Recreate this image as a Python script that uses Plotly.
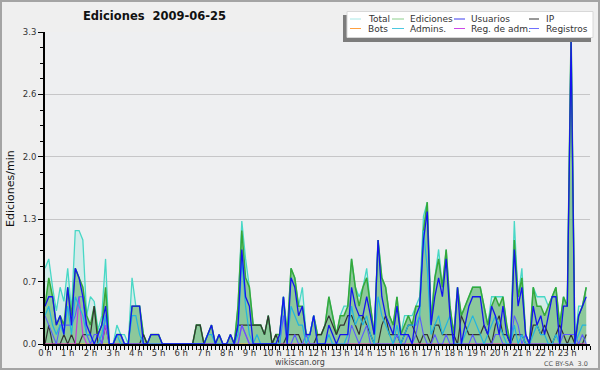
import plotly.graph_objects as go

# ---- data: one value per 10-minute slot (edits per minute), 2009-06-25 ----
slot_minutes = list(range(0, 1440, 10))
slot_hours = [m / 60 for m in slot_minutes]

hour_ticks = list(range(24))
hour_labels = [f"{h} h" for h in hour_ticks]

y_tickvals = [0.0, 0.66, 1.32, 1.98, 2.64, 3.3]
y_ticklabels = ["0.0", "0.7", "1.3", "2.0", "2.6", "3.3"]

total = [
    0.8, 0.9, 0.6, 0.35, 0.6, 0.45,
    0.8, 0.35, 1.2, 1.2, 1.1, 0.3,
    0.5, 0.45, 0.15, 0.3, 0.9, 0.0,
    0.0, 0.2, 0.1, 0.1, 0.0, 0.7,
    0.4, 0.4, 0.1, 0.0, 0.1, 0.1,
    0.1, 0.0, 0.0, 0.0, 0.0, 0.0,
    0.0, 0.0, 0.0, 0.0, 0.2, 0.2,
    0.0, 0.1, 0.2, 0.0, 0.1, 0.0,
    0.0, 0.1, 0.0, 0.4, 1.3, 0.9,
    0.6, 0.2, 0.2, 0.2, 0.1, 0.3,
    0.0, 0.1, 0.1, 0.5, 0.1, 0.8,
    0.7, 0.4, 0.6, 0.1, 0.1, 0.3,
    0.1, 0.1, 0.2, 0.5, 0.3, 0.1,
    0.3, 0.4, 0.4, 0.9, 0.6, 0.5,
    0.6, 0.8, 0.4, 0.1, 1.1, 0.7,
    0.6, 0.3, 0.2, 0.5, 0.1, 0.3,
    0.3, 0.3, 0.4, 0.5, 1.35, 1.5,
    0.3, 0.7, 1.0, 0.6, 1.0, 0.4,
    0.1, 0.6, 0.3, 0.4, 0.5, 0.6,
    0.6, 0.6, 0.4, 0.2, 0.5, 0.5,
    0.5, 0.5, 0.2, 0.0, 1.3, 0.5,
    0.8, 0.1, 0.0, 0.6, 0.5, 0.5,
    0.5, 0.4, 0.5, 0.6, 0.2, 0.5,
    0.4, 3.3, 0.0, 0.4, 0.4, 0.6,
]

ediciones = [
    0.4, 0.7, 0.5, 0.2, 0.3, 0.2,
    0.6, 0.3, 0.8, 0.7, 0.6, 0.3,
    0.2, 0.4, 0.1, 0.2, 0.6, 0.0,
    0.0, 0.1, 0.1, 0.0, 0.0, 0.4,
    0.4, 0.4, 0.1, 0.0, 0.1, 0.1,
    0.1, 0.0, 0.0, 0.0, 0.0, 0.0,
    0.0, 0.0, 0.0, 0.0, 0.2, 0.2,
    0.0, 0.1, 0.2, 0.0, 0.1, 0.0,
    0.0, 0.1, 0.0, 0.4, 1.2, 0.7,
    0.6, 0.2, 0.2, 0.2, 0.1, 0.3,
    0.0, 0.1, 0.1, 0.5, 0.1, 0.8,
    0.7, 0.4, 0.4, 0.1, 0.1, 0.3,
    0.1, 0.1, 0.2, 0.5, 0.3, 0.1,
    0.3, 0.3, 0.4, 0.9, 0.6, 0.4,
    0.6, 0.7, 0.4, 0.1, 1.1, 0.7,
    0.6, 0.3, 0.2, 0.5, 0.1, 0.2,
    0.3, 0.2, 0.4, 0.4, 1.2, 1.5,
    0.2, 0.7, 0.9, 0.6, 1.0, 0.4,
    0.1, 0.6, 0.3, 0.4, 0.5, 0.6,
    0.6, 0.6, 0.4, 0.2, 0.4, 0.5,
    0.4, 0.5, 0.2, 0.0, 1.1, 0.5,
    0.7, 0.1, 0.0, 0.6, 0.4, 0.4,
    0.3, 0.4, 0.5, 0.6, 0.2, 0.5,
    0.4, 3.3, 0.0, 0.3, 0.4, 0.6,
]

usuarios = [
    0.4, 0.5, 0.5, 0.2, 0.3, 0.1,
    0.6, 0.2, 0.8, 0.7, 0.5, 0.2,
    0.1, 0.0, 0.1, 0.2, 0.4, 0.0,
    0.0, 0.1, 0.1, 0.0, 0.0, 0.4,
    0.4, 0.4, 0.0, 0.0, 0.1, 0.1,
    0.1, 0.0, 0.0, 0.0, 0.0, 0.0,
    0.0, 0.0, 0.0, 0.0, 0.0, 0.0,
    0.0, 0.1, 0.2, 0.0, 0.1, 0.0,
    0.0, 0.1, 0.0, 0.2, 1.0, 0.5,
    0.4, 0.0, 0.0, 0.0, 0.0, 0.0,
    0.0, 0.0, 0.1, 0.5, 0.0, 0.7,
    0.6, 0.3, 0.4, 0.1, 0.1, 0.3,
    0.0, 0.0, 0.0, 0.2, 0.1, 0.0,
    0.1, 0.1, 0.1, 0.6, 0.4, 0.3,
    0.3, 0.5, 0.3, 0.1, 1.1, 0.5,
    0.3, 0.2, 0.1, 0.4, 0.1, 0.1,
    0.1, 0.0, 0.3, 0.4, 1.1, 1.4,
    0.2, 0.5, 0.7, 0.5, 0.9, 0.3,
    0.0, 0.6, 0.0, 0.2, 0.4, 0.5,
    0.5, 0.5, 0.2, 0.1, 0.4, 0.3,
    0.1, 0.4, 0.1, 0.0, 1.0, 0.4,
    0.6, 0.1, 0.0, 0.4, 0.2, 0.3,
    0.1, 0.3, 0.5, 0.5, 0.0, 0.4,
    0.4, 3.2, 0.0, 0.3, 0.4, 0.5,
]

ip = [
    0.0, 0.2, 0.0, 0.0, 0.0, 0.1,
    0.0, 0.1, 0.0, 0.0, 0.1, 0.1,
    0.1, 0.4, 0.0, 0.0, 0.2, 0.0,
    0.0, 0.0, 0.0, 0.0, 0.0, 0.0,
    0.0, 0.0, 0.1, 0.0, 0.0, 0.0,
    0.0, 0.0, 0.0, 0.0, 0.0, 0.0,
    0.0, 0.0, 0.0, 0.0, 0.2, 0.2,
    0.0, 0.0, 0.0, 0.0, 0.0, 0.0,
    0.0, 0.0, 0.0, 0.2, 0.2, 0.2,
    0.2, 0.2, 0.2, 0.2, 0.1, 0.3,
    0.0, 0.1, 0.0, 0.0, 0.1, 0.1,
    0.1, 0.1, 0.0, 0.0, 0.0, 0.0,
    0.1, 0.1, 0.2, 0.3, 0.2, 0.1,
    0.2, 0.2, 0.3, 0.3, 0.2, 0.1,
    0.3, 0.2, 0.1, 0.0, 0.0, 0.2,
    0.3, 0.1, 0.1, 0.1, 0.0, 0.1,
    0.2, 0.2, 0.1, 0.0, 0.1, 0.1,
    0.0, 0.2, 0.2, 0.1, 0.1, 0.1,
    0.1, 0.0, 0.3, 0.2, 0.1, 0.1,
    0.1, 0.1, 0.2, 0.1, 0.0, 0.2,
    0.3, 0.1, 0.1, 0.0, 0.1, 0.1,
    0.1, 0.0, 0.0, 0.2, 0.2, 0.1,
    0.2, 0.1, 0.0, 0.1, 0.2, 0.1,
    0.0, 0.1, 0.0, 0.0, 0.0, 0.1,
]

bots = [
    0.0, 0.0, 0.0, 0.0, 0.0, 0.0,  0.0, 0.0, 0.0, 0.0, 0.0, 0.0,
    0.0, 0.0, 0.0, 0.0, 0.0, 0.0,  0.0, 0.0, 0.0, 0.0, 0.0, 0.0,
    0.0, 0.0, 0.0, 0.0, 0.0, 0.0,  0.0, 0.0, 0.0, 0.0, 0.0, 0.0,
    0.0, 0.0, 0.0, 0.0, 0.0, 0.0,  0.0, 0.0, 0.0, 0.0, 0.0, 0.0,
    0.0, 0.0, 0.0, 0.0, 0.0, 0.0,  0.0, 0.0, 0.0, 0.0, 0.0, 0.0,
    0.0, 0.0, 0.0, 0.0, 0.0, 0.0,  0.0, 0.0, 0.0, 0.0, 0.0, 0.0,
    0.0, 0.0, 0.0, 0.0, 0.0, 0.0,  0.0, 0.0, 0.0, 0.0, 0.0, 0.0,
    0.0, 0.0, 0.0, 0.0, 0.0, 0.0,  0.0, 0.0, 0.0, 0.0, 0.0, 0.0,
    0.0, 0.0, 0.0, 0.0, 0.0, 0.0,  0.0, 0.0, 0.0, 0.0, 0.0, 0.0,
    0.0, 0.0, 0.0, 0.0, 0.0, 0.0,  0.0, 0.0, 0.0, 0.0, 0.0, 0.0,
    0.0, 0.0, 0.0, 0.0, 0.0, 0.0,  0.0, 0.0, 0.0, 0.0, 0.0, 0.0,
    0.0, 0.0, 0.0, 0.0, 0.0, 0.0,  0.0, 0.0, 0.0, 0.0, 0.0, 0.0,
]

admins = [
    0.3, 0.4, 0.2, 0.1, 0.2, 0.1,
    0.4, 0.1, 0.5, 0.4, 0.3, 0.1,
    0.1, 0.0, 0.0, 0.1, 0.3, 0.0,
    0.0, 0.1, 0.0, 0.0, 0.0, 0.3,
    0.3, 0.1, 0.0, 0.0, 0.0, 0.0,
    0.0, 0.0, 0.0, 0.0, 0.0, 0.0,
    0.0, 0.0, 0.0, 0.0, 0.0, 0.0,
    0.0, 0.1, 0.1, 0.0, 0.0, 0.0,
    0.0, 0.0, 0.0, 0.1, 0.9, 0.4,
    0.1, 0.0, 0.1, 0.0, 0.0, 0.0,
    0.0, 0.0, 0.0, 0.5, 0.0, 0.4,
    0.3, 0.2, 0.2, 0.0, 0.1, 0.3,
    0.0, 0.0, 0.0, 0.1, 0.0, 0.0,
    0.0, 0.0, 0.1, 0.4, 0.2, 0.3,
    0.2, 0.3, 0.1, 0.0, 0.5, 0.3,
    0.2, 0.1, 0.0, 0.2, 0.0, 0.1,
    0.2, 0.2, 0.2, 0.3, 1.2, 0.8,
    0.1, 0.2, 0.3, 0.1, 0.2, 0.3,
    0.0, 0.0, 0.0, 0.1, 0.2, 0.3,
    0.2, 0.1, 0.0, 0.1, 0.2, 0.3,
    0.2, 0.1, 0.0, 0.0, 0.2, 0.0,
    0.1, 0.0, 0.0, 0.1, 0.2, 0.1,
    0.1, 0.0, 0.0, 0.1, 0.0, 0.0,
    0.0, 0.0, 0.0, 0.1, 0.2, 0.2,
]

reg_adm = [
    0.0, 0.0, 0.0, 0.0, 0.0, 0.0,  0.0, 0.0, 0.0, 0.5, 0.1, 0.0,
    0.0, 0.0, 0.0, 0.0, 0.2, 0.0,  0.0, 0.0, 0.0, 0.0, 0.0, 0.0,
    0.0, 0.0, 0.0, 0.0, 0.0, 0.0,  0.0, 0.0, 0.0, 0.0, 0.0, 0.0,
    0.0, 0.0, 0.0, 0.0, 0.0, 0.0,  0.0, 0.0, 0.0, 0.0, 0.0, 0.0,
    0.0, 0.0, 0.0, 0.0, 0.2, 0.1,  0.0, 0.0, 0.0, 0.0, 0.0, 0.0,
    0.0, 0.0, 0.0, 0.0, 0.0, 0.0,  0.0, 0.0, 0.0, 0.0, 0.0, 0.0,
    0.0, 0.0, 0.0, 0.0, 0.0, 0.0,  0.0, 0.0, 0.0, 0.0, 0.0, 0.0,
    0.0, 0.0, 0.0, 0.0, 0.0, 0.0,  0.0, 0.0, 0.0, 0.0, 0.0, 0.0,
    0.0, 0.0, 0.0, 0.0, 0.0, 0.0,  0.0, 0.0, 0.0, 0.0, 0.0, 0.0,
    0.0, 0.0, 0.0, 0.0, 0.0, 0.0,  0.0, 0.0, 0.0, 0.0, 0.0, 0.0,
    0.0, 0.0, 0.0, 0.0, 0.0, 0.0,  0.0, 0.0, 0.0, 0.0, 0.0, 0.0,
    0.0, 0.0, 0.0, 0.0, 0.0, 0.0,  0.0, 0.0, 0.0, 0.0, 0.0, 0.0,
]

registros = [
    0.3, 0.2, 0.1, 0.0, 0.2, 0.2,
    0.2, 0.2, 0.3, 0.5, 0.5, 0.1,
    0.0, 0.1, 0.1, 0.0, 0.3, 0.0,
    0.0, 0.1, 0.1, 0.0, 0.0, 0.0,
    0.0, 0.0, 0.0, 0.0, 0.0, 0.0,
    0.0, 0.0, 0.0, 0.0, 0.0, 0.0,
    0.0, 0.0, 0.0, 0.0, 0.0, 0.0,
    0.0, 0.0, 0.0, 0.0, 0.0, 0.0,
    0.0, 0.0, 0.0, 0.0, 0.2, 0.1,
    0.0, 0.0, 0.0, 0.0, 0.0, 0.0,
    0.0, 0.0, 0.0, 0.3, 0.0, 0.0,
    0.1, 0.0, 0.0, 0.1, 0.0, 0.0,
    0.0, 0.0, 0.0, 0.0, 0.0, 0.0,
    0.0, 0.0, 0.0, 0.2, 0.1, 0.0,
    0.1, 0.2, 0.0, 0.0, 0.0, 0.0,
    0.0, 0.0, 0.0, 0.1, 0.0, 0.0,
    0.1, 0.0, 0.1, 0.3, 0.1, 0.0,
    0.0, 0.1, 0.0, 0.0, 0.1, 0.0,
    0.0, 0.0, 0.0, 0.0, 0.0, 0.1,
    0.0, 0.0, 0.0, 0.0, 0.0, 0.1,
    0.1, 0.0, 0.0, 0.0, 0.3, 0.2,
    0.0, 0.1, 0.0, 0.0, 0.0, 0.0,
    0.0, 0.0, 0.0, 0.0, 0.0, 0.1,
    0.1, 0.1, 0.1, 0.0, 0.1, 0.0,
]

# ---- styling ----
FONT = "DejaVu Sans"
W, H = 600, 370
ML, MR, MT, MB = 45, 10, 32, 26
PW, PH = W - ML - MR, H - MT - MB


def px(x):
    return (x - ML) / PW


def py(y):
    return (MT + PH - y) / PH


fig = go.Figure()


def add_line(y, color, width, fill=None, fillcolor=None, name=""):
    kw = dict(x=slot_hours, y=y, mode="lines", name=name,
              line=dict(color=color, width=width), hoverinfo="skip",
              showlegend=False)
    if fill:
        kw.update(fill=fill, fillcolor=fillcolor)
    fig.add_trace(go.Scatter(**kw))


add_line(total, "#48d8c6", 1.3, "tozeroy", "rgba(72,216,198,0.16)", "Total")
add_line(ediciones, "#36a83a", 1.5, "tozeroy", "rgba(70,165,75,0.50)", "Ediciones")
add_line(bots, "#ff9a3a", 1.0, name="Bots")
add_line(ip, "#333333", 1.2, name="IP")
add_line(reg_adm, "#c23cdc", 1.2, name="Reg. de adm.")
add_line(registros, "#5a5aff", 1.1, name="Registros")
add_line(admins, "#22b4e0", 1.2, name="Admins.")
add_line(usuarios, "#1414ee", 1.3, name="Usuarios")

shapes = []
annotations = []

# figure border
shapes.append(dict(type="rect", xref="paper", yref="paper",
                   x0=px(1), x1=px(W - 1), y0=py(H - 1), y1=py(1),
                   line=dict(color="#a4a4a4", width=2), fillcolor="rgba(0,0,0,0)",
                   layer="above"))

# legend shadow + box
shapes.append(dict(type="rect", xref="paper", yref="paper",
                   x0=px(343), x1=px(591), y0=py(42), y1=py(15),
                   line=dict(width=0), fillcolor="#7c7c7c", layer="above"))
shapes.append(dict(type="rect", xref="paper", yref="paper",
                   x0=px(347), x1=px(593), y0=py(37.5), y1=py(11.5),
                   line=dict(color="#d8d8d8", width=1), fillcolor="#ffffff",
                   layer="above"))

legend_items = [
    ("Total", "#a8e8e6", 350, 361, 366, 19),
    ("Ediciones", "#8ccf8c", 392, 404, 408, 19),
    ("Usuarios", "#3c3cf0", 454, 465, 469, 19),
    ("IP", "#333333", 529, 539, 544, 19),
    ("Bots", "#ffa040", 350, 361, 366, 28.5),
    ("Admins.", "#4cc8e0", 392, 404, 408, 28.5),
    ("Reg. de adm.", "#cc48e8", 454, 465, 469, 28.5),
    ("Registros", "#7070ff", 529, 539, 544, 28.5),
]
for label, color, sx0, sx1, tx, ry in legend_items:
    shapes.append(dict(type="line", xref="paper", yref="paper",
                       x0=px(sx0), x1=px(sx1), y0=py(ry), y1=py(ry),
                       line=dict(color=color, width=1), layer="above"))
    annotations.append(dict(text=label, xref="paper", yref="paper",
                            x=px(tx), y=py(ry), xanchor="left", yanchor="middle",
                            showarrow=False,
                            font=dict(family=FONT, size=9, color="#333333")))

# title
annotations.append(dict(text="<b>Ediciones  2009-06-25</b>", xref="paper", yref="paper",
                        x=px(154), y=py(16), xanchor="center", yanchor="middle",
                        showarrow=False,
                        font=dict(family=FONT, size=11.5, color="#111111")))
# y-axis title
annotations.append(dict(text="Ediciones/min", xref="paper", yref="paper",
                        x=px(10), y=py(189), xanchor="center", yanchor="middle",
                        textangle=-90, showarrow=False,
                        font=dict(family=FONT, size=11, color="#111111")))
# footer
annotations.append(dict(text="wikiscan.org", xref="paper", yref="paper",
                        x=px(300), y=py(362.5), xanchor="center", yanchor="middle",
                        showarrow=False,
                        font=dict(family=FONT, size=8, color="#444444")))
annotations.append(dict(text="CC BY-SA  3.0", xref="paper", yref="paper",
                        x=px(590), y=py(363.5), xanchor="right", yanchor="middle",
                        showarrow=False,
                        font=dict(family=FONT, size=6.5, color="#555555")))

fig.update_layout(
    width=W, height=H,
    margin=dict(l=ML, r=MR, t=MT, b=MB, pad=0, autoexpand=False),
    paper_bgcolor="#efefef", plot_bgcolor="#eeeff1",
    showlegend=False,
    shapes=shapes, annotations=annotations,
    font=dict(family=FONT, size=9, color="#333333"),
    xaxis=dict(
        range=[0, 24], tickmode="array", tickvals=hour_ticks, ticktext=hour_labels,
        ticks="outside", ticklen=4, tickwidth=1, tickcolor="#000000",
        ticklabelstandoff=-4,
        showline=True, linecolor="#000000", linewidth=2,
        showgrid=False, zeroline=False, fixedrange=True, automargin=False,
        tickfont=dict(family=FONT, size=8.5, color="#333333"),
        minor=dict(ticks="outside", ticklen=4, tickwidth=1, tickcolor="#000000",
                   tickmode="linear", tick0=0, dtick=1 / 6, showgrid=False),
    ),
    yaxis=dict(
        range=[0, 3.3], tickmode="array", tickvals=y_tickvals, ticktext=y_ticklabels,
        ticks="outside", ticklen=5, tickwidth=1, tickcolor="#000000",
        showline=True, linecolor="#000000", linewidth=2,
        showgrid=True, gridcolor="#c6c6c8", gridwidth=1,
        zeroline=False, fixedrange=True, automargin=False,
        tickfont=dict(family=FONT, size=8.5, color="#333333"),
        minor=dict(ticks="outside", ticklen=3, tickwidth=1, tickcolor="#000000",
                   tickmode="linear", tick0=0, dtick=0.165, showgrid=False),
    ),
)

fig.write_html("out.html",
               config={"displayModeBar": False, "staticPlot": True},
               post_script="document.body.style.margin='0';document.body.style.padding='0';")
